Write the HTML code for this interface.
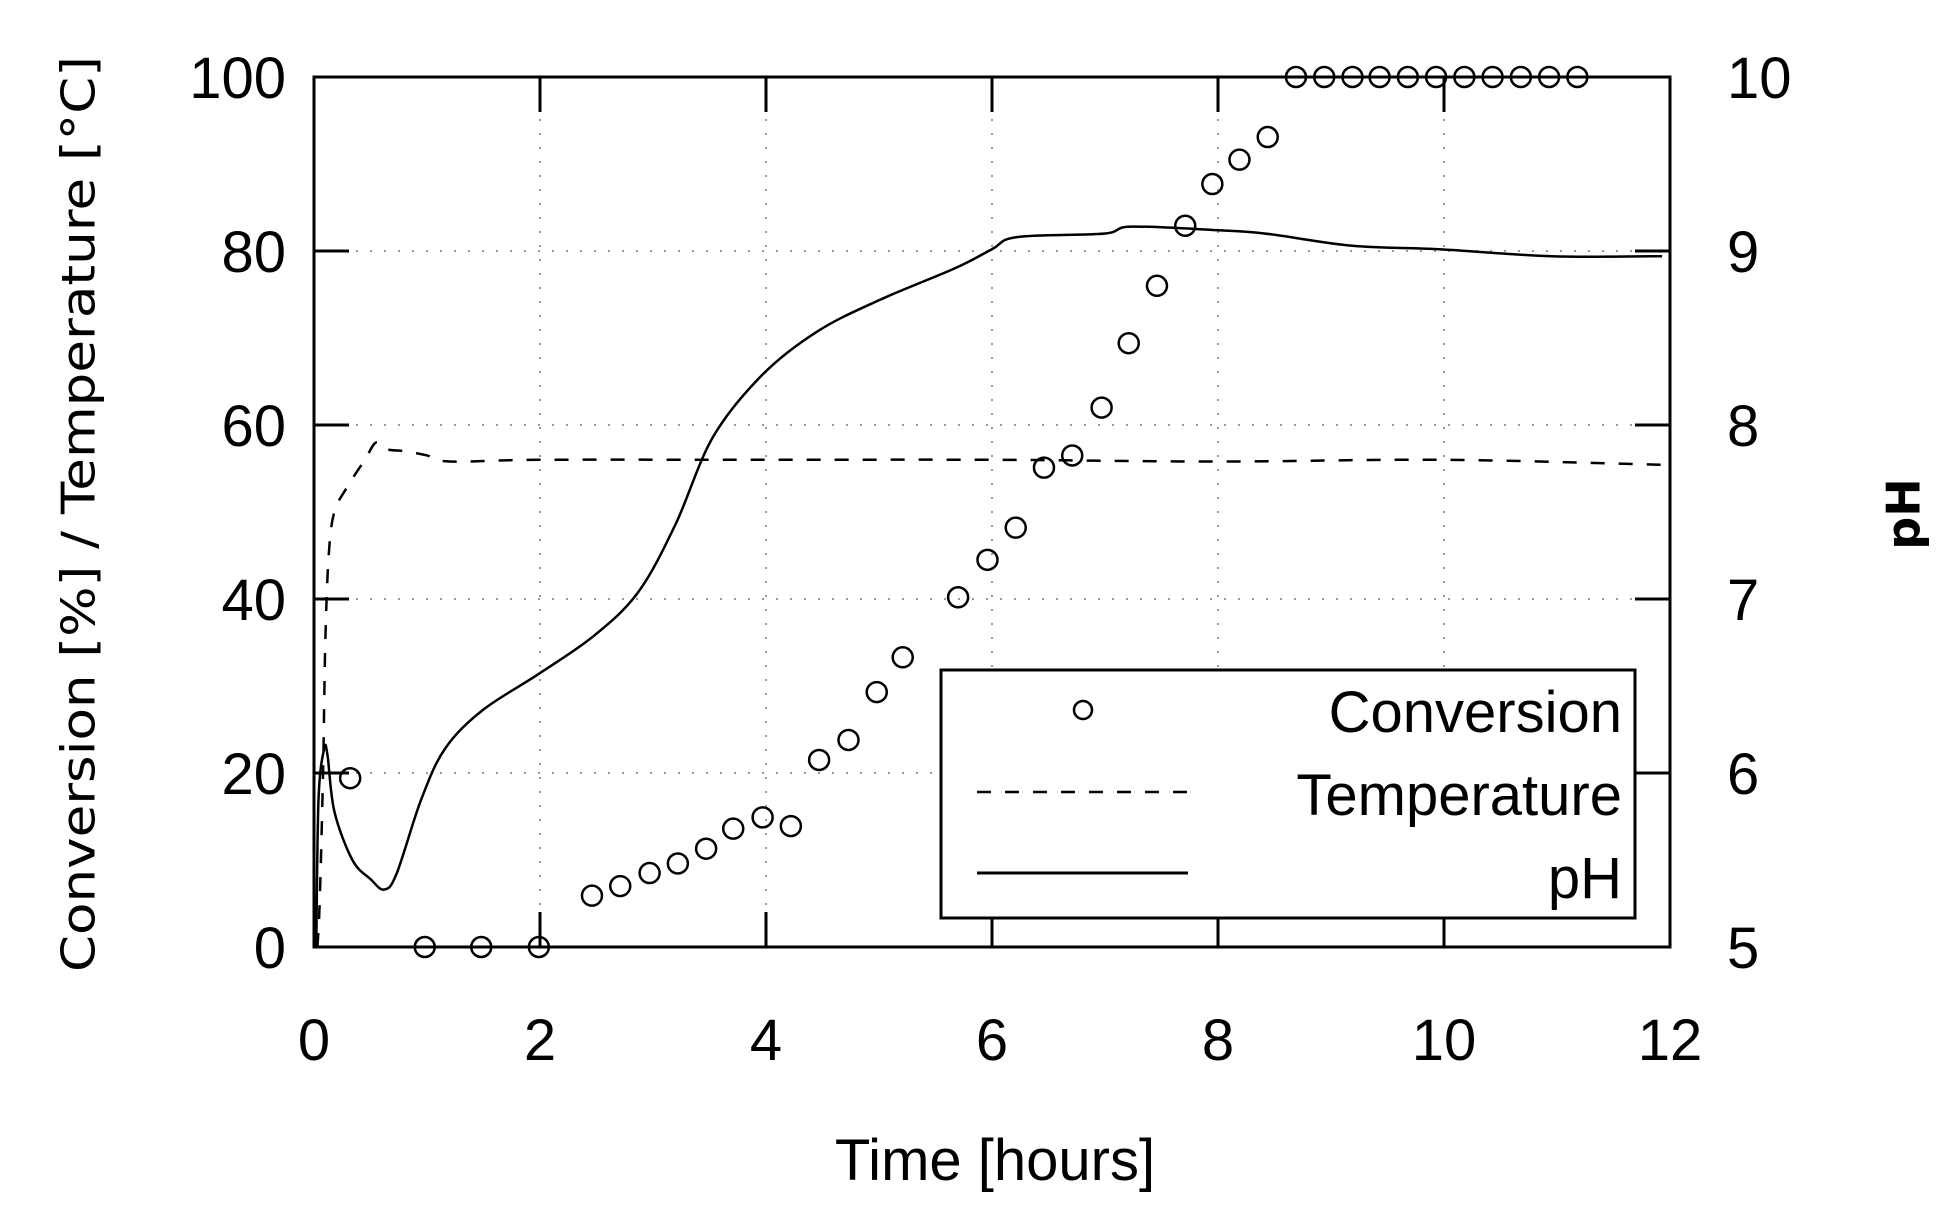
<!DOCTYPE html>
<html><head><meta charset="utf-8"><style>
html,body{margin:0;padding:0;background:#fff;}
svg{display:block;}
text{font-family:"Liberation Sans Narrow","Liberation Sans",sans-serif;fill:#000;}
</style></head><body>
<svg id="chart" width="1957" height="1222" viewBox="0 0 1957 1222" xmlns="http://www.w3.org/2000/svg">
<g id="grid"></g>
<g id="series"></g>
<g id="axes"></g>
<text x="82" y="514" transform="rotate(-90 82 514)" text-anchor="middle" dominant-baseline="middle" style="font-family:'DejaVu Sans',sans-serif;font-size:46px" textLength="916" lengthAdjust="spacingAndGlyphs">Conversion [%] / Temperature [°C]</text>
<text x="1907" y="514" transform="rotate(-90 1907 514)" text-anchor="middle" dominant-baseline="middle" style="font-family:'DejaVu Sans',sans-serif;font-size:46px;font-weight:bold">pH</text>
<text x="995" y="1180" text-anchor="middle" style="font-size:58px">Time [hours]</text>
<g>
<rect x="941" y="670" width="694" height="248" fill="#fff" stroke="#000" stroke-width="3"/>
<circle cx="1083" cy="710" r="9" fill="none" stroke="#000" stroke-width="2.5"/>
<text x="1622" y="732" text-anchor="end" style="font-size:58px">Conversion</text>
<line x1="977" y1="792" x2="1188" y2="792" stroke="#000" stroke-width="2.5" stroke-dasharray="14,14"/>
<text x="1622" y="815" text-anchor="end" style="font-size:58px">Temperature</text>
<line x1="977" y1="873" x2="1188" y2="873" stroke="#000" stroke-width="3"/>
<text x="1622" y="898" text-anchor="end" style="font-size:58px">pH</text>
</g>
</svg>
<script>
const xTicks=[0,2,4,6,8,10,12];
const yTicks=[0,20,40,60,80,100];
const y2Ticks=[5,6,7,8,9,10];
const convTime=[0.32,0.98,1.48,1.99,2.46,2.71,2.97,3.22,3.47,3.71,3.97,4.22,4.47,4.73,4.98,5.21,5.70,5.96,6.21,6.46,6.71,6.97,7.21,7.46,7.71,7.95,8.19,8.44,8.69,8.94,9.19,9.43,9.68,9.93,10.18,10.43,10.68,10.93,11.18];
const convValue=[19.4,0,0,0,5.9,7.0,8.5,9.6,11.3,13.6,14.9,13.9,21.5,23.8,29.3,33.3,40.2,44.5,48.2,55.1,56.5,62.0,69.4,76.0,82.9,87.7,90.5,93.1,100,100,100,100,100,100,100,100,100,100,100];
const tempTime=[0.03,0.05,0.08,0.1,0.13,0.18,0.3,0.45,0.55,0.65,0.8,1.0,1.2,2,4,6,8,10,12];
const tempValue=[0,5,20,35,45,50,53,56,58,57.2,57,56.5,55.8,56,56,56,55.8,56,55.4];
const phTime=[0.02,0.04,0.09,0.12,0.18,0.34,0.5,0.62,0.73,0.95,1.16,1.49,1.99,2.48,2.87,3.2,3.53,3.97,4.46,5.01,5.67,6.0,6.22,6.99,7.23,7.98,8.42,9.19,9.96,10.95,11.93];
const phValue=[5.0,5.85,6.14,6.1,5.78,5.5,5.39,5.33,5.42,5.85,6.14,6.36,6.57,6.79,7.04,7.43,7.93,8.29,8.54,8.72,8.9,9.01,9.08,9.1,9.14,9.12,9.1,9.03,9.01,8.97,8.97];

const L=314,R=1670,T=77,B=947;
const xs=v=>L+(v-0)/12*(R-L);
const ys=v=>B-(v/100)*(B-T);
const ys2=v=>B-((v-5)/5)*(B-T);
const NS='http://www.w3.org/2000/svg';
function mk(tag,attrs,parent){const e=document.createElementNS(NS,tag);for(const k in attrs)e.setAttribute(k,attrs[k]);parent.appendChild(e);return e;}
function smooth(pts){let d='M'+pts[0][0]+','+pts[0][1];for(let i=0;i<pts.length-1;i++){const p0=pts[Math.max(0,i-1)],p1=pts[i],p2=pts[i+1],p3=pts[Math.min(pts.length-1,i+2)];const c1=[p1[0]+(p2[0]-p0[0])/6,p1[1]+(p2[1]-p0[1])/6],c2=[p2[0]-(p3[0]-p1[0])/6,p2[1]-(p3[1]-p1[1])/6];d+=' C'+c1+' '+c2+' '+p2;}return d;}
const grid=document.getElementById('grid'),axes=document.getElementById('axes'),series=document.getElementById('series');

xTicks.forEach(t=>{
  if(t>0&&t<12){const g=mk('line',{x1:xs(t),y1:T,x2:xs(t),y2:B,stroke:'#999','stroke-width':2,'stroke-dasharray':'2,12'},grid);
  
  }
  const a=mk('line',{x1:xs(t),y1:B,x2:xs(t),y2:B-35,stroke:'#000','stroke-width':3},axes);
  
  
  const b=mk('line',{x1:xs(t),y1:T,x2:xs(t),y2:T+35,stroke:'#000','stroke-width':3},axes);
  
  
  const tx=mk('text',{x:xs(t),y:1060,'text-anchor':'middle','font-size':58},axes);
  tx.textContent=t;
  
  
});
yTicks.forEach(t=>{
  if(t>0&&t<100){const g=mk('line',{x1:L,y1:ys(t),x2:R,y2:ys(t),stroke:'#999','stroke-width':2,'stroke-dasharray':'2,12'},grid);
  
  }
  const a=mk('line',{x1:L,y1:ys(t),x2:L+35,y2:ys(t),stroke:'#000','stroke-width':3},axes);
  
  
  const tx=mk('text',{x:286,y:ys(t)+21,'text-anchor':'end','font-size':58},axes);
  tx.textContent=t;
  
  
});
y2Ticks.forEach(t=>{
  const a=mk('line',{x1:R,y1:ys2(t),x2:R-35,y2:ys2(t),stroke:'#000','stroke-width':3},axes);
  
  
  const tx=mk('text',{x:1727,y:ys2(t)+21,'text-anchor':'start','font-size':58},axes);
  tx.textContent=t;
  
  
});
const frame=mk('rect',{x:L,y:T,width:R-L,height:B-T,fill:'none',stroke:'#000','stroke-width':3},axes);



const tp=mk('path',{d:smooth(tempTime.map((t,i)=>[xs(t),ys(tempValue[i])])),fill:'none',stroke:'#000','stroke-width':2.5,'stroke-dasharray':'14,14'},series);


const pp=mk('path',{d:smooth(phTime.map((t,i)=>[xs(t),ys2(phValue[i])])),fill:'none',stroke:'#000','stroke-width':2.5,'stroke-linejoin':'round'},series);


convTime.forEach((t,i)=>{
  const c=mk('circle',{cx:xs(t),cy:ys(convValue[i]),r:10,fill:'none',stroke:'#000','stroke-width':2.5},series);
  
  
});
</script>
</body></html>
